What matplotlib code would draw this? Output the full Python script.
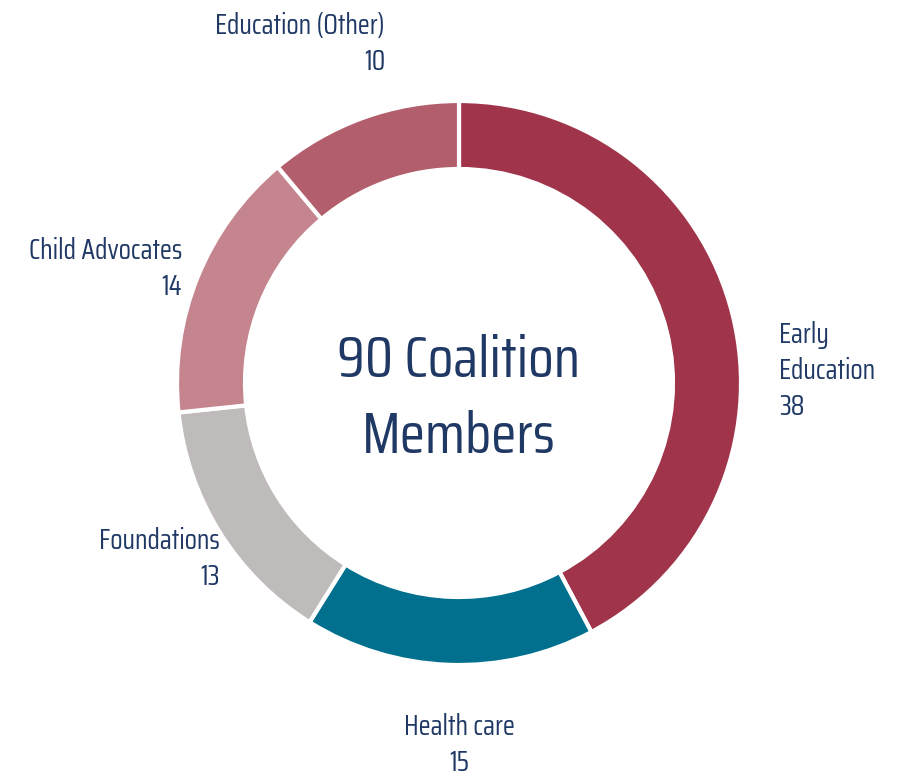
import matplotlib.pyplot as plt

# data
categories = ["Early\nEducation", "Health care", "Foundations", "Child Advocates", "Education (Other)"]
counts = [38, 15, 13, 14, 10]
colors = ["#A0344A", "#00708E", "#BFBBBA", "#C5858F", "#B35E6C"]

plt.rcParams['font.family'] = ['Saira Condensed', 'DejaVu Sans']
text_color = "#1F3864"

W, H = 904, 779
fig = plt.figure(figsize=(W / 100, H / 100), dpi=100)
ax = fig.add_axes([0, 0, 1, 1])

cx, cy = 459, H - 383
r_out = 282
ring = 68

ax.pie(counts, colors=colors, startangle=90, counterclock=False,
       center=(cx, cy), radius=r_out,
       wedgeprops=dict(width=ring, edgecolor="white", linewidth=3))
ax.set_xlim(0, W)
ax.set_ylim(0, H)
ax.set_aspect('equal')
ax.axis('off')

# label layout: (x, y from top, ha)
label_pos = [(779, 371, 'left'), (459, 745, 'center'), (220, 559, 'right'),
             (182, 269, 'right'), (385, 44, 'right')]
for name, val, (x, y, ha) in zip(categories, counts, label_pos):
    ax.text(x, H - y, f"{name}\n{val}", ha=ha, va='center', multialignment=ha,
            fontsize=20, color=text_color, linespacing=1.35)

total = sum(counts)
ax.text(cx, cy - 16, f"{total} Coalition\nMembers", ha='center', va='center',
        fontsize=42, color=text_color, linespacing=1.52)

fig.savefig("out.png", dpi=100)
